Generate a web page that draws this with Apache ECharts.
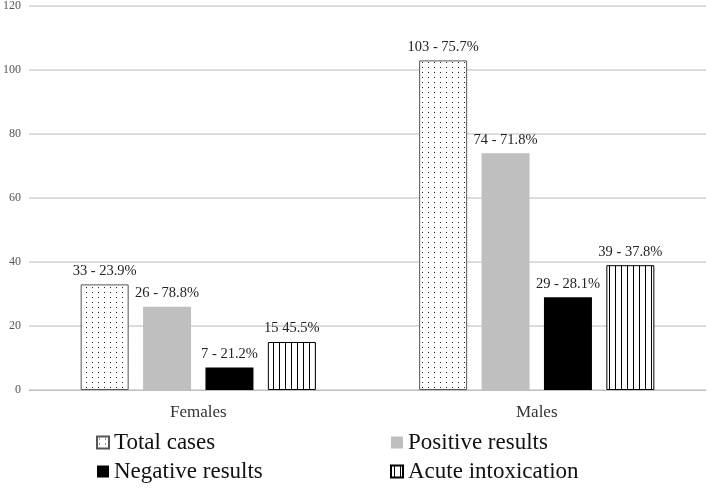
<!DOCTYPE html>
<html><head><meta charset="utf-8">
<script src="https://cdn.jsdelivr.net/npm/echarts@6/dist/echarts.min.js"></script>
<style>html,body{margin:0;padding:0;background:#fff}#c{width:709px;height:488px}</style>
</head><body><div id="c"></div>
<script>
const categories = ['Females', 'Males'];
const totalCases = [33, 103];
const positiveResults = [26, 74];
const negativeResults = [7, 29];
const acuteIntox = [15, 39];
const totalLabels = ['33 - 23.9%', '103 - 75.7%'];
const positiveLabels = ['26 - 78.8%', '74 - 71.8%'];
const negativeLabels = ['7 - 21.2%', '29 - 28.1%'];
const acuteLabels = ['15 45.5%', '39 - 37.8%'];
const yTicks = [0, 20, 40, 60, 80, 100, 120];

function dotPattern() {
  const c = document.createElement('canvas');
  c.width = 6; c.height = 5;
  const g = c.getContext('2d');
  g.fillStyle = '#fff'; g.fillRect(0, 0, 6, 5);
  g.fillStyle = '#222'; g.fillRect(2, 2, 1, 1);
  return c;
}
function stripePattern() {
  const c = document.createElement('canvas');
  c.width = 6; c.height = 4;
  const g = c.getContext('2d');
  g.fillStyle = '#fff'; g.fillRect(0, 0, 6, 4);
  g.fillStyle = '#000'; g.fillRect(3, 0, 1, 4);
  return c;
}
const font = '"Liberation Serif", serif';
function mkLabels(arr) {
  return { show: true, position: 'top', distance: 6, color: '#222', fontFamily: font, fontSize: 14.5,
    formatter: p => arr[p.dataIndex] };
}
const legendText = { fontFamily: font, fontSize: 23, color: '#111' };
const chart = echarts.init(document.getElementById('c'), null, { renderer: 'canvas' });
chart.setOption({
  animation: false,
  backgroundColor: '#fff',
  textStyle: { fontFamily: font },
  grid: { left: 26, right: 3, top: 6, bottom: 98, containLabel: false },
  legend: [
    { data: ['Total cases', 'Negative results'], orient: 'vertical', left: 91, top: 426,
      icon: 'rect', itemWidth: 12, itemHeight: 12, itemGap: 6,
      textStyle: legendText },
    { data: ['Positive results', 'Acute intoxication'], orient: 'vertical', left: 385, top: 426,
      icon: 'rect', itemWidth: 12, itemHeight: 12, itemGap: 6,
      textStyle: legendText }
  ],
  xAxis: {
    type: 'category', data: categories,
    axisLine: { lineStyle: { color: '#bfbfbf' } }, axisTick: { show: false },
    axisLabel: { fontFamily: font, fontSize: 17, color: '#333', margin: 14 }
  },
  yAxis: {
    type: 'value', min: yTicks[0], max: yTicks[yTicks.length - 1], interval: 20,
    axisLine: { show: false }, axisTick: { show: false },
    axisLabel: { fontFamily: font, fontSize: 12, color: '#555', margin: 8 },
    splitLine: { lineStyle: { color: '#d0d0d0', width: 1.5 } }
  },
  series: [
    { name: 'Total cases', type: 'bar', data: totalCases, barWidth: 48, barGap: '30%',
      itemStyle: { color: { image: dotPattern(), repeat: 'repeat' }, borderColor: '#555', borderWidth: 1 },
      label: mkLabels(totalLabels) },
    { name: 'Positive results', type: 'bar', data: positiveResults, barWidth: 48, barGap: '30%',
      itemStyle: { color: '#bfbfbf' }, label: mkLabels(positiveLabels) },
    { name: 'Negative results', type: 'bar', data: negativeResults, barWidth: 48, barGap: '30%',
      itemStyle: { color: '#000' }, label: mkLabels(negativeLabels) },
    { name: 'Acute intoxication', type: 'bar', data: acuteIntox, barWidth: 48, barGap: '30%',
      itemStyle: { color: { image: stripePattern(), repeat: 'repeat' }, borderColor: '#000', borderWidth: 1 },
      label: mkLabels(acuteLabels) }
  ]
});
</script></body></html>
